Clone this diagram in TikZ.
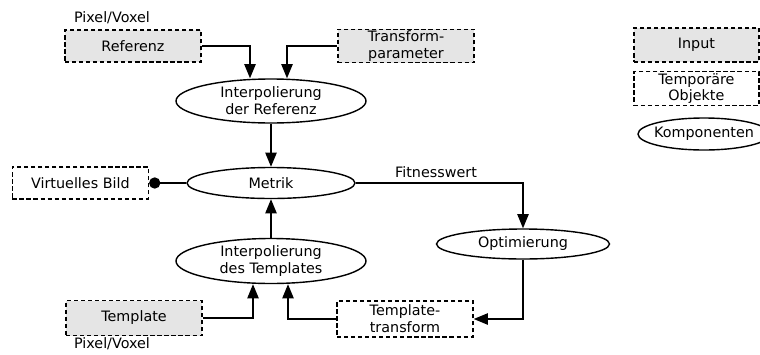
\documentclass[tikz,border=0pt]{standalone}
\usepackage{fontspec}
\setmainfont{DejaVu Sans}
\usetikzlibrary{arrows.meta, shapes.geometric}

\begin{document}
\begin{tikzpicture}[->, >={Triangle[length=10pt, width=8pt]}, line width=1pt,
        font=\fontsize{10.2}{12}\selectfont,
        input node/.style={draw, dash pattern=on 3pt off 2pt, fill=gray!20, minimum width=3.4cm, minimum height=0.8cm, inner sep=1pt, align=center},
        temp node/.style={input node, fill=white},
        comp node/.style={ellipse, draw, solid, inner sep=0pt, align=center}]

    \useasboundingbox (0,0) rectangle (19,8.85);

    % Knoten
    \node[input node] (ref) at (3.325,7.70) {Referenz};
    \node (refpix) at (2.80,8.40) {Pixel/Voxel};
    \node[input node] (trans) at (10.15,7.70) {Transform-\\parameter};
    \node[comp node, minimum width=4.75cm, minimum height=1.1cm] (iref) at (6.775,6.325) {Interpolierung\\der Referenz};
    \node[comp node, minimum width=4.2cm, minimum height=0.775cm] (metrik) at (6.775,4.275) {Metrik};
    \node[temp node] (virt) at (2.01,4.275) {Virtuelles Bild};
    \node[comp node, minimum width=4.75cm, minimum height=1.125cm] (itpl) at (6.775,2.325) {Interpolierung\\des Templates};
    \node[comp node, minimum width=4.325cm, minimum height=0.75cm] (opt) at (13.075,2.75) {Optimierung};
    \node[input node, minimum height=0.875cm] (tpl) at (3.35,0.90) {Template};
    \node (tplpix) at (2.80,0.25) {Pixel/Voxel};
    \node[temp node, minimum height=0.9cm] (ttrans) at (10.125,0.875) {Template-\\transform};

    % Legende
    \node[input node, minimum width=3.125cm, minimum height=0.85cm] (leginput) at (17.41,7.725) {Input};
    \node[temp node, minimum width=3.125cm, minimum height=0.825cm] (legtemp) at (17.41,6.6375) {Temporäre\\Objekte};
    \node[comp node, inner xsep=-1mm, minimum width=3.3cm, minimum height=0.8cm] (legcomp) at (17.6,5.5) {Komponenten};

    % Kanten
    \draw (ref.east) -| ([xshift=-5.25mm]iref.north);
    \draw (trans.west) -| ([xshift=4mm]iref.north);
    \draw (iref) -- (metrik);
    \draw (itpl) -- (metrik);
    \draw[-{Circle[length=8pt]}] (metrik.west) -- (virt.east);
    \draw (metrik.east) -| node[pos=0.24, above] (fit) {Fitnesswert} (opt.north);
    \draw (opt.south) |- (ttrans.east);
    \draw (tpl.east) -| ([xshift=-4.5mm]itpl.south);
    \draw (ttrans.west) -| ([xshift=4.25mm]itpl.south);
\end{tikzpicture}
\end{document}
